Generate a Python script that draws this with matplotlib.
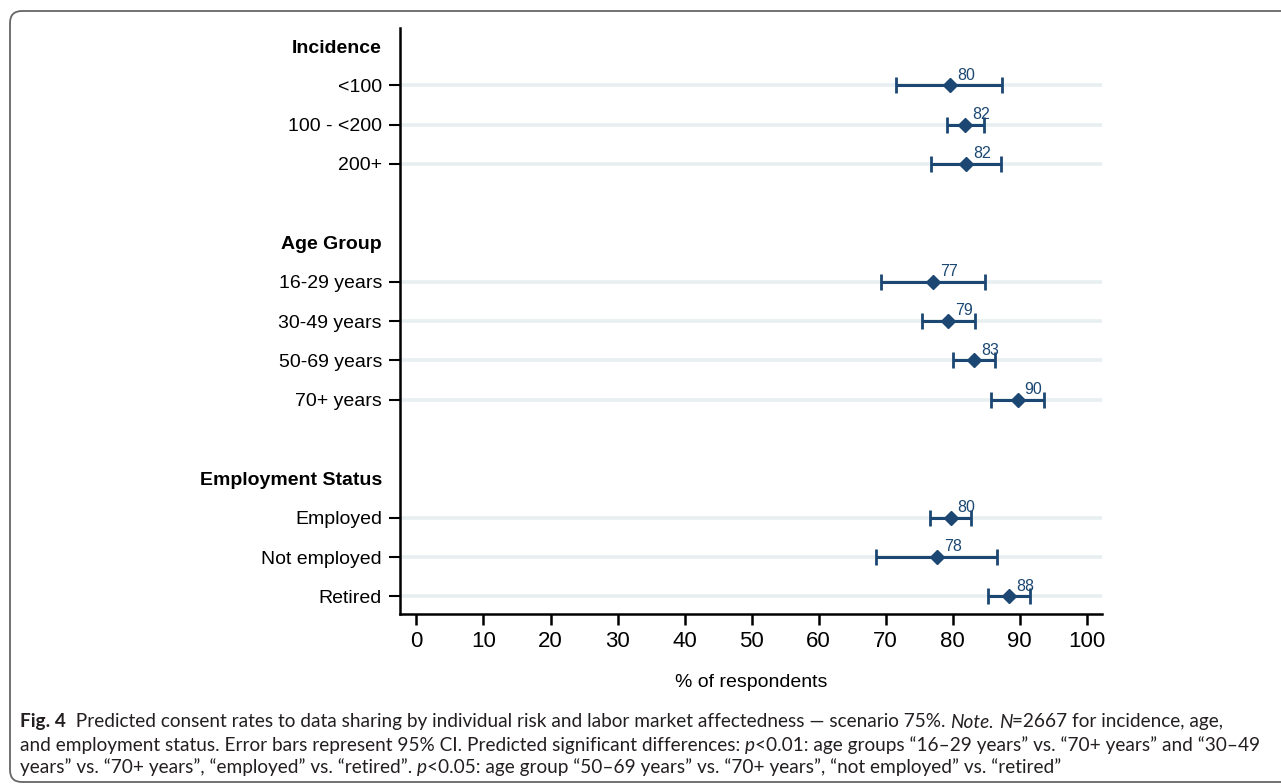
import matplotlib.pyplot as plt
import matplotlib.patches as mpatches
from matplotlib.transforms import IdentityTransform

# groups, row labels and estimates (% of respondents) with 95% CI
groups = ["Incidence", "Age Group", "Employment Status"]
rows = [["<100", "100 - <200", "200+"],
        ["16-29 years", "30-49 years", "50-69 years", "70+ years"],
        ["Employed", "Not employed", "Retired"]]
est = [[79.6, 81.9, 82.0],
       [77.1, 79.3, 83.2, 89.7],
       [79.7, 77.7, 88.4]]
lo = [[71.6, 79.2, 76.8],
      [69.3, 75.4, 80.1, 85.7],
      [76.6, 68.5, 85.3]]
hi = [[87.4, 84.7, 87.3],
      [84.9, 83.4, 86.4, 93.7],
      [82.7, 86.6, 91.5]]
xticks = list(range(0, 101, 10))

navy = "#1b4772"
grid_c = "#e8eff1"

plt.rcParams['font.family'] = ['Liberation Sans', 'DejaVu Sans']

fig = plt.figure(figsize=(12.81, 7.84), dpi=100)
ax = fig.add_axes([400 / 1281, 170 / 784, 702 / 1281, 586 / 784])

# build row positions: header, rows, blank line between groups
ypos, ylab, is_head = [], [], []
pos = 0
for g, labs in zip(groups, rows):
    ypos.append(pos); ylab.append(g); is_head.append(True)
    pos += 1
    for lab in labs:
        ypos.append(pos); ylab.append(lab); is_head.append(False)
        pos += 1
    pos += 1

k = 0
for gi, labs in enumerate(rows):
    k += 1
    for ri in range(len(labs)):
        y = ypos[k]
        e, l, h = est[gi][ri], lo[gi][ri], hi[gi][ri]
        ax.axhline(y, color=grid_c, lw=2.6, zorder=0)
        ax.errorbar(e, y, xerr=[[e - l], [h - e]], fmt='D', color=navy,
                    ms=7.5, lw=2.2, capsize=6, capthick=2.0, zorder=3)
        ax.annotate(f"{round(e)}", (e, y), xytext=(5, 2), textcoords='offset points',
                    ha='left', va='bottom', fontsize=11.5, color=navy)
        k += 1

ax.set_xlim(-2.46, 102.3)
ax.set_ylim(14.45, -0.46)
ax.set_xticks(xticks)
ax.set_xticklabels([str(t) for t in xticks], fontsize=16)
ax.set_yticks(ypos)
ax.set_yticklabels(ylab, fontsize=14)
for t, lab, h in zip(ax.yaxis.get_major_ticks(), ax.get_yticklabels(), is_head):
    if h:
        t.tick1line.set_visible(False)
        lab.set_fontweight('bold')

ax.tick_params(axis='y', length=8, width=1.5, pad=5)
ax.tick_params(axis='x', length=8, width=1.8, pad=4)
ax.spines['top'].set_visible(False)
ax.spines['right'].set_visible(False)
ax.spines['left'].set_linewidth(1.8)
ax.spines['bottom'].set_linewidth(1.8)
ax.set_xlabel("% of respondents", fontsize=14, labelpad=16)

# frame around the figure
box = mpatches.FancyBboxPatch((10, 2), 1300, 771, boxstyle="round,pad=0,rounding_size=12",
                              transform=IdentityTransform(), fill=False,
                              ec="#666666", lw=1.3)
fig.patches.append(box)

# caption, drawn as styled runs
cap_font = ['Lato', 'DejaVu Sans']
cap_c = "#231f20"
R, B, I = {}, {'fontweight': 'bold'}, {'fontstyle': 'italic'}
lines = [
    [("Fig. 4", B), ("  Predicted consent rates to data sharing by individual risk and labor market "
                     "affectedness \u2014 scenario 75%. ", R), ("Note.", I), (" ", R), ("N", I),
     ("=2667 for incidence, age,", R)],
    [("and employment status. Error bars represent 95% CI. Predicted significant differences: ", R),
     ("p", I), ("<0.01: age groups \u201c16\u201329 years\u201d vs. \u201c70+ years\u201d and \u201c30\u201349", R)],
    [("years\u201d vs. \u201c70+ years\u201d, \u201cemployed\u201d vs. \u201cretired\u201d. ", R), ("p", I),
     ("<0.05: age group \u201c50\u201369 years\u201d vs. \u201c70+ years\u201d, \u201cnot employed\u201d vs. \u201cretired\u201d", R)],
]
renderer = fig.canvas.get_renderer()


def advance(s, style, size):
    t1 = fig.text(0, 0, s + "|", family=cap_font, fontsize=size, **style)
    t2 = fig.text(0, 0, "|", family=cap_font, fontsize=size, **style)
    w = t1.get_window_extent(renderer).width - t2.get_window_extent(renderer).width
    t1.remove(); t2.remove()
    return w


base = 12
w1 = sum(advance(s, st, base) for s, st in lines[0])
w2 = sum(advance(s, st, base) for s, st in lines[1])
size = base * min(1243 / w1, 1235 / w2)
line_y = [784 - 722, 784 - 745, 784 - 767]
for runs, yy in zip(lines, line_y):
    x = 20
    for s, st in runs:
        fig.text(x / 1281, yy / 784, s, family=cap_font, fontsize=size, color=cap_c,
                 va='center', ha='left', **st)
        x += advance(s, st, size)

fig.savefig("out.png", dpi=100)
